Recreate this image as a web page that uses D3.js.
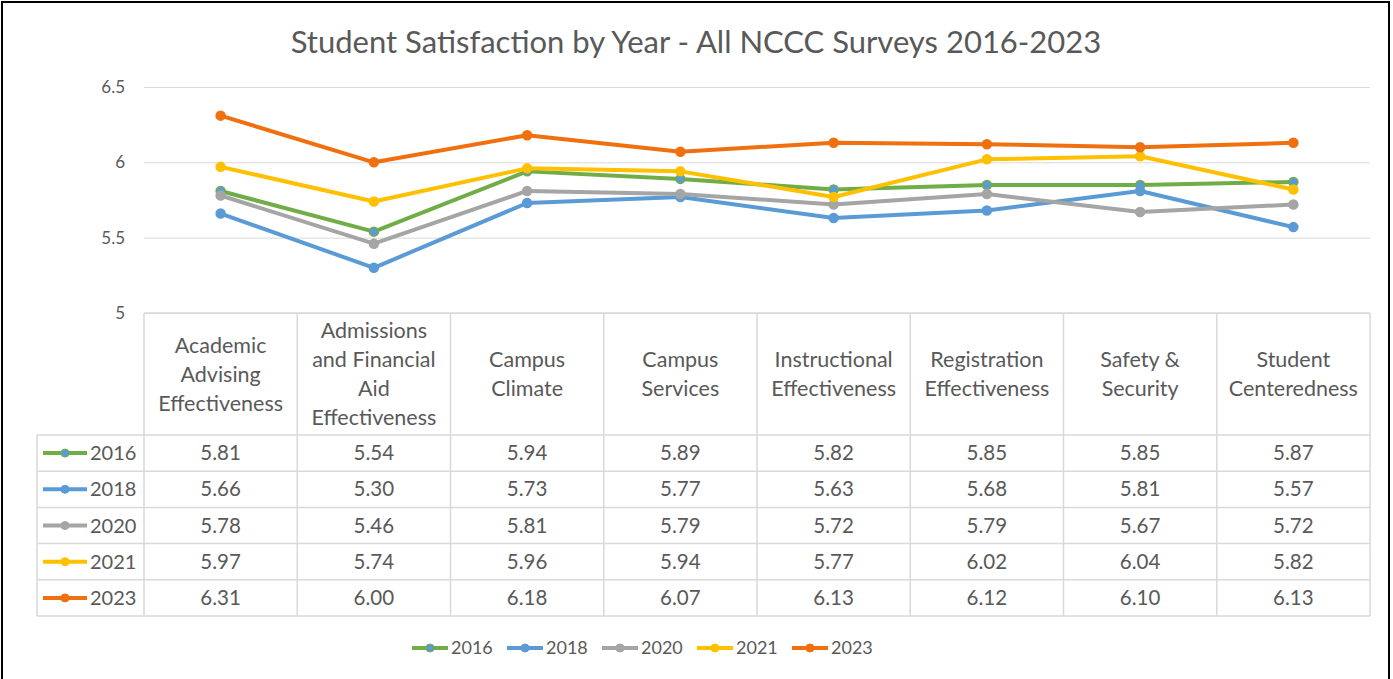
<!DOCTYPE html>
<html>
<head>
<meta charset="utf-8">
<script src="https://cdn.jsdelivr.net/npm/d3@7"></script>
<style>
  html, body { margin: 0; padding: 0; background: #fff; }
  svg { display: block; font-family: Lato, "Open Sans", sans-serif; }
</style>
</head>
<body>
<div id="chart"></div>
<script>
const categories = [
  "Academic Advising Effectiveness",
  "Admissions and Financial Aid Effectiveness",
  "Campus Climate",
  "Campus Services",
  "Instructional Effectiveness",
  "Registration Effectiveness",
  "Safety & Security",
  "Student Centeredness"
];
// how each header wraps in the table
const headerLines = [
  ["Academic", "Advising", "Effectiveness"],
  ["Admissions", "and Financial", "Aid", "Effectiveness"],
  ["Campus", "Climate"],
  ["Campus", "Services"],
  ["Instructional", "Effectiveness"],
  ["Registration", "Effectiveness"],
  ["Safety &", "Security"],
  ["Student", "Centeredness"]
];
const years = ["2016", "2018", "2020", "2021", "2023"];
const values2016 = [5.81, 5.54, 5.94, 5.89, 5.82, 5.85, 5.85, 5.87];
const values2018 = [5.66, 5.30, 5.73, 5.77, 5.63, 5.68, 5.81, 5.57];
const values2020 = [5.78, 5.46, 5.81, 5.79, 5.72, 5.79, 5.67, 5.72];
const values2021 = [5.97, 5.74, 5.96, 5.94, 5.77, 6.02, 6.04, 5.82];
const values2023 = [6.31, 6.00, 6.18, 6.07, 6.13, 6.12, 6.10, 6.13];
const yTicks = [5, 5.5, 6, 6.5];

const colors = ["#70AD47", "#5B9BD5", "#A5A5A5", "#FFC000", "#F07010"];
// 2016 markers come out blue-filled in the original
const markerFill = ["#5B9BD5", "#5B9BD5", "#A5A5A5", "#FFC000", "#F07010"];

const series = years.map((y, i) => ({
  year: y,
  color: colors[i],
  fill: markerFill[i],
  values: [values2016, values2018, values2020, values2021, values2023][i]
}));

const W = 1393, H = 679;
const textColor = "#595959";
const gridColor = "#D9D9D9";

const svg = d3.select("#chart").append("svg")
  .attr("width", W)
  .attr("height", H);

svg.append("rect")
  .attr("x", 2).attr("y", 2)
  .attr("width", 1387).attr("height", 700)
  .attr("fill", "#fff")
  .attr("stroke", "#000")
  .attr("stroke-width", 2);

// title
svg.append("text")
  .attr("x", 696)
  .attr("y", 53)
  .attr("text-anchor", "middle")
  .attr("fill", textColor)
  .style("font-size", "31px")
  .text("Student Satisfaction by Year - All NCCC Surveys 2016-2023");

const x = d3.scaleBand().domain(categories).range([144, 1370]);
const y = d3.scaleLinear().domain([5, 6.5]).range([313, 87]);

// gridlines + y labels
const yAxis = svg.append("g")
  .attr("transform", "translate(144,0)")
  .call(d3.axisLeft(y).tickValues(yTicks).tickSize(-1226).tickFormat(d3.format("")));
yAxis.select(".domain").remove();
yAxis.selectAll(".tick line").attr("stroke", gridColor).attr("stroke-width", 1);
yAxis.selectAll(".tick text")
  .attr("x", -19)
  .attr("fill", textColor)
  .style("font-size", "17px")
  .style("font-family", "Lato, sans-serif");

// data table
const headerTop = 313, headerBottom = 435;
const row = d3.scaleBand().domain(years).range([435, 616]);
const table = svg.append("g");
const legendLeft = 37;

// horizontal lines
table.append("line")
  .attr("x1", 144).attr("x2", 1370)
  .attr("y1", headerTop).attr("y2", headerTop);
years.forEach(yr => {
  table.append("line")
    .attr("x1", legendLeft).attr("x2", 1370)
    .attr("y1", row(yr)).attr("y2", row(yr));
});
table.append("line")
  .attr("x1", legendLeft).attr("x2", 1370)
  .attr("y1", 616).attr("y2", 616);
// vertical lines
categories.forEach(c => {
  table.append("line")
    .attr("x1", x(c)).attr("x2", x(c))
    .attr("y1", headerTop).attr("y2", 616);
});
table.append("line")
  .attr("x1", 1370).attr("x2", 1370)
  .attr("y1", headerTop).attr("y2", 616);
table.append("line")
  .attr("x1", legendLeft).attr("x2", legendLeft)
  .attr("y1", headerBottom).attr("y2", 616);
table.selectAll("line").attr("stroke", gridColor).attr("stroke-width", 1.5);

// header text
const lineH = 29;
categories.forEach((c, i) => {
  const lines = headerLines[i];
  const cy = (headerTop + headerBottom) / 2 - (lines.length - 1) * lineH / 2;
  lines.forEach((t, j) => {
    table.append("text")
      .attr("x", x(c) + x.bandwidth() / 2)
      .attr("y", cy + j * lineH)
      .attr("dy", "0.35em")
      .attr("text-anchor", "middle")
      .attr("fill", textColor)
      .style("font-size", "21.5px")
      .text(t);
  });
});

// value cells
series.forEach(s => {
  const cy = row(s.year) + row.bandwidth() / 2;
  s.values.forEach((v, i) => {
    table.append("text")
      .attr("x", x(categories[i]) + x.bandwidth() / 2)
      .attr("y", cy)
      .attr("dy", "0.35em")
      .attr("text-anchor", "middle")
      .attr("fill", textColor)
      .style("font-size", "20.5px")
      .text(d3.format(".2f")(v));
  });
  // legend key in the row
  table.append("line")
    .attr("x1", 43).attr("x2", 87)
    .attr("y1", cy).attr("y2", cy)
    .attr("stroke", s.color)
    .attr("stroke-width", 4);
  table.append("circle")
    .attr("cx", 65).attr("cy", cy).attr("r", 4)
    .attr("fill", s.fill)
    .attr("stroke", s.color)
    .attr("stroke-width", 1);
  table.append("text")
    .attr("x", 90)
    .attr("y", cy)
    .attr("dy", "0.35em")
    .attr("fill", textColor)
    .style("font-size", "20px")
    .text(s.year);
});

// lines
const line = d3.line()
  .x((d, i) => x(categories[i]) + x.bandwidth() / 2)
  .y(d => y(d));

const plot = svg.append("g");
series.forEach(s => {
  plot.append("path")
    .attr("d", line(s.values))
    .attr("fill", "none")
    .attr("stroke", s.color)
    .attr("stroke-width", 4)
    .attr("stroke-linejoin", "round")
    .attr("stroke-linecap", "round");
  plot.selectAll(null)
    .data(s.values)
    .enter().append("circle")
    .attr("cx", (d, i) => x(categories[i]) + x.bandwidth() / 2)
    .attr("cy", d => y(d))
    .attr("r", 4.5)
    .attr("fill", s.fill)
    .attr("stroke", s.color)
    .attr("stroke-width", 1.5);
});

// bottom legend
const legend = svg.append("g");
series.forEach((s, i) => {
  const lx = 412 + i * 95;
  legend.append("line")
    .attr("x1", lx).attr("x2", lx + 36)
    .attr("y1", 648).attr("y2", 648)
    .attr("stroke", s.color)
    .attr("stroke-width", 4);
  legend.append("circle")
    .attr("cx", lx + 18).attr("cy", 648).attr("r", 4)
    .attr("fill", s.fill)
    .attr("stroke", s.color)
    .attr("stroke-width", 1);
  legend.append("text")
    .attr("x", lx + 39)
    .attr("y", 648)
    .attr("dy", "0.35em")
    .attr("fill", textColor)
    .style("font-size", "18px")
    .text(s.year);
});
</script>
</body>
</html>
